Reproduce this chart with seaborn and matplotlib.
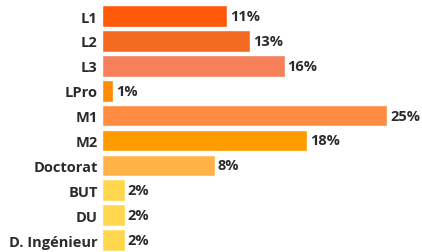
import matplotlib
matplotlib.use('Agg')
import matplotlib.pyplot as plt
import seaborn as sns
import pandas as pd

levels = ["L1", "L2", "L3", "LPro", "M1", "M2", "Doctorat", "BUT", "DU", "D. Ingénieur"]
# bar lengths as drawn in the source (Doctorat bar is longer than its label)
shares = [11, 13, 16, 1, 25, 18, 9.9, 2, 2, 2]
labels = ["11%", "13%", "16%", "1%", "25%", "18%", "8%", "2%", "2%", "2%"]
colors = ["#FF5A0A", "#F26A1F", "#F5805A", "#FF8C00", "#FF8C40",
          "#FF9A00", "#FFB347", "#FFD84D", "#FFD84D", "#FFD84D"]

df = pd.DataFrame({"level": levels, "share": shares})

sns.set_style("white")
plt.rcParams['font.family'] = ['Open Sans', 'DejaVu Sans']

fig = plt.figure(figsize=(4.22, 2.53), dpi=100)
ax = fig.add_axes([0.2417, -0.002, 0.757, 0.984])
sns.barplot(data=df, x="share", y="level", hue="level", palette=colors,
            legend=False, width=0.87, saturation=1, ax=ax)

for i, v in enumerate(shares):
    ax.text(v + 0.25, i, labels[i], va="center", ha="left",
            fontsize=10.5, fontweight="bold", color="#2b2b2b")

ax.set_xlim(0, 28)
ax.set_ylim(9.5, -0.5)
ax.set_xlabel("")
ax.set_ylabel("")
ax.set_xticks([])
ax.tick_params(axis="y", length=0, pad=3)
for lab in ax.get_yticklabels():
    lab.set_fontsize(10.5)
    lab.set_fontweight("bold")
    lab.set_color("#2b2b2b")
sns.despine(ax=ax, left=True, bottom=True)

fig.savefig("out.png", dpi=100)
